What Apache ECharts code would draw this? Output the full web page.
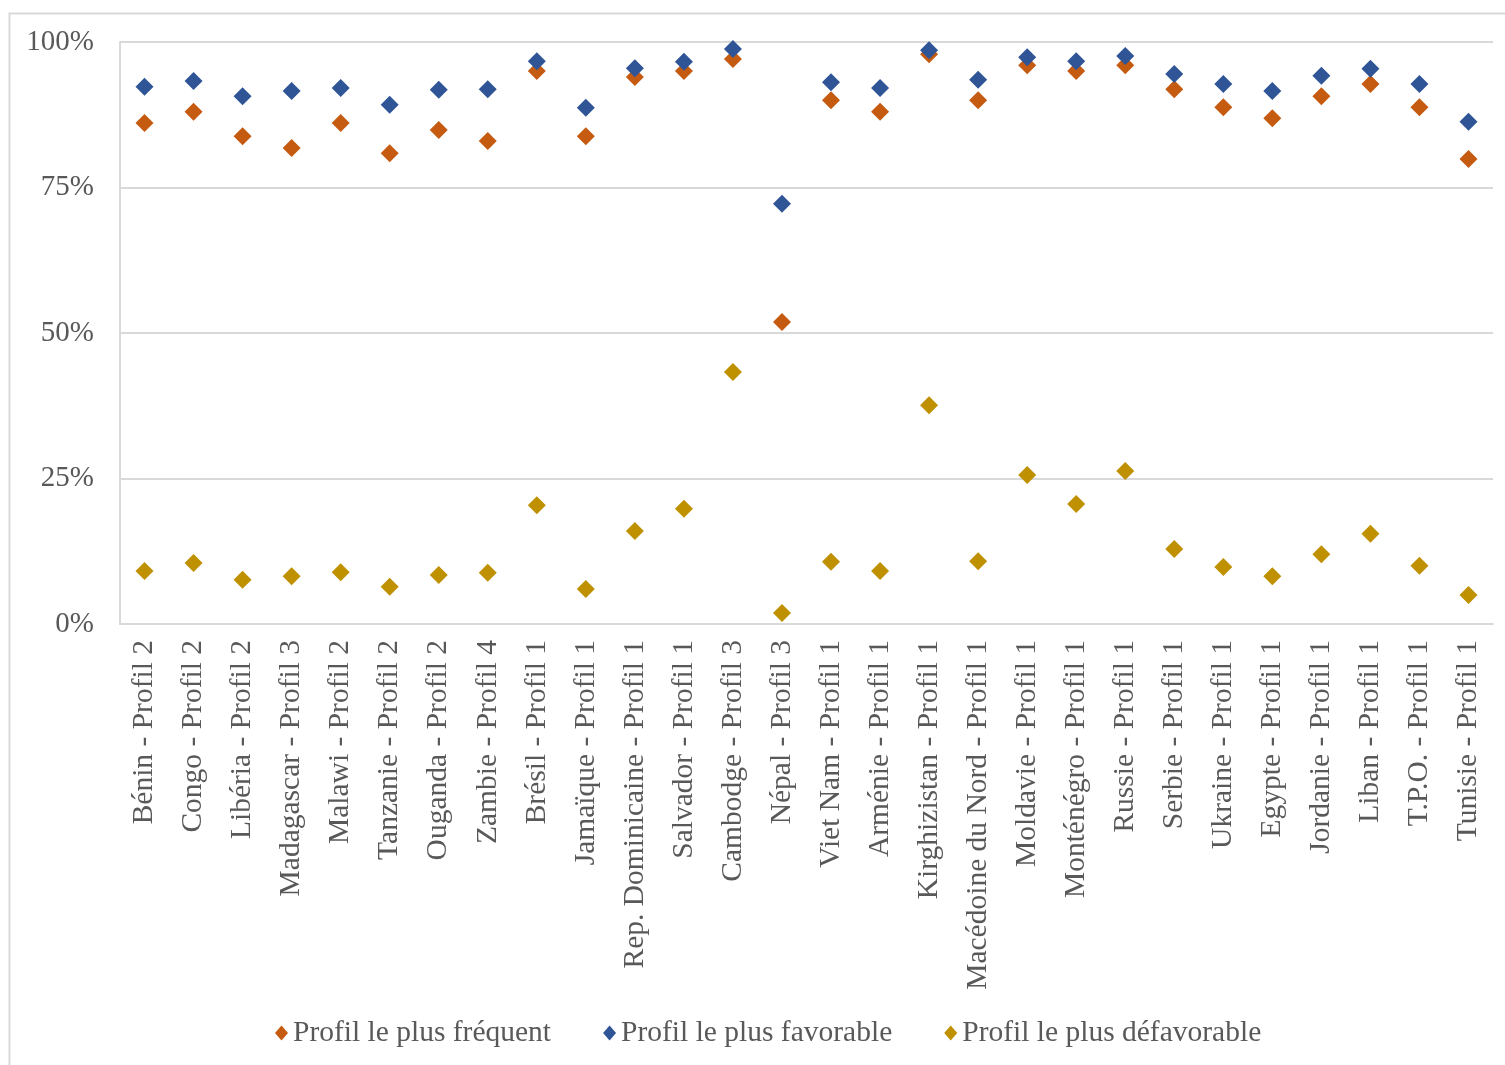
<!DOCTYPE html>
<html>
<head>
<meta charset="utf-8">
<script src="https://cdn.jsdelivr.net/npm/echarts@6/dist/echarts.min.js"></script>
<style>
html,body{margin:0;padding:0;background:#fff;}
#chart{width:1505px;height:1065px;}
</style>
</head>
<body>
<div id="chart"></div>
<script>
const categories = [
  "Bénin - Profil 2","Congo - Profil 2","Libéria - Profil 2","Madagascar - Profil 3","Malawi - Profil 2",
  "Tanzanie - Profil 2","Ouganda - Profil 2","Zambie - Profil 4","Brésil - Profil 1","Jamaïque - Profil 1",
  "Rep. Dominicaine - Profil 1","Salvador - Profil 1","Cambodge - Profil 3","Népal - Profil 3","Viet Nam - Profil 1",
  "Arménie - Profil 1","Kirghizistan - Profil 1","Macédoine du Nord - Profil 1","Moldavie - Profil 1","Monténégro - Profil 1",
  "Russie - Profil 1","Serbie - Profil 1","Ukraine - Profil 1","Egypte - Profil 1","Jordanie - Profil 1",
  "Liban - Profil 1","T.P.O. - Profil 1","Tunisie - Profil 1"
];
const frequent = [86.1,88.0,83.8,81.8,86.1,80.9,84.9,83.0,95.0,83.8,94.0,95.0,97.1,51.9,90.0,88.0,97.9,90.0,96.0,95.0,96.0,91.9,88.8,86.9,90.7,92.8,88.8,79.9];
const favorable = [92.3,93.3,90.7,91.6,92.1,89.2,91.8,91.9,96.7,88.7,95.5,96.6,98.8,72.2,93.1,92.1,98.6,93.5,97.4,96.7,97.6,94.5,92.8,91.6,94.2,95.4,92.8,86.3];
const unfavorable = [9.1,10.5,7.6,8.2,8.9,6.4,8.4,8.8,20.4,6.0,16.0,19.8,43.3,1.9,10.7,9.1,37.6,10.8,25.6,20.6,26.3,12.9,9.8,8.2,12.0,15.5,10.0,5.0];
const seriesNames = ["Profil le plus fréquent","Profil le plus favorable","Profil le plus défavorable"];
const colors = ["#C55A11","#2F5597","#BF9000"];

const font = "'Liberation Serif','Times New Roman',serif";
const chart = echarts.init(document.getElementById('chart'));
const mk = (name, data, color) => ({
  name, type: 'scatter', data, symbol: 'diamond', symbolSize: 18,
  itemStyle: { color, opacity: 1 }, emphasis: { disabled: true }
});
chart.setOption({
  animation: false,
  graphic: [{
    type: 'rect', shape: { x: 9.5, y: 13.5, width: 1600, height: 1200 },
    style: { fill: 'none', stroke: '#d9d9d9', lineWidth: 2 }, silent: true, z: -1
  }],
  grid: { left: 120, right: 12, top: 42, bottom: 441 },
  xAxis: {
    type: 'category', data: categories, boundaryGap: true,
    axisLine: { show: true, lineStyle: { color: '#d9d9d9', width: 2 } },
    axisTick: { show: false },
    axisLabel: { rotate: 90, interval: 0, margin: 16, color: '#595959', fontFamily: font, fontSize: 29.5 },
    splitLine: { show: false }
  },
  yAxis: {
    type: 'value', min: 0, max: 100, interval: 25,
    axisLine: { show: true, lineStyle: { color: '#d9d9d9', width: 2 } },
    axisTick: { show: false },
    axisLabel: { formatter: '{value}%', margin: 26, color: '#595959', fontFamily: font, fontSize: 29 },
    splitLine: { show: true, lineStyle: { color: '#d9d9d9', width: 2 } }
  },
  legend: {
    data: seriesNames, left: 270, top: 1013, icon: 'diamond', itemWidth: 13, itemHeight: 15, itemGap: 52,
    itemStyle: { opacity: 1 },
    textStyle: { color: '#595959', fontFamily: font, fontSize: 29.5 }
  },
  series: [
    mk(seriesNames[0], frequent, colors[0]),
    mk(seriesNames[1], favorable, colors[1]),
    mk(seriesNames[2], unfavorable, colors[2])
  ]
});
</script>
</body>
</html>
